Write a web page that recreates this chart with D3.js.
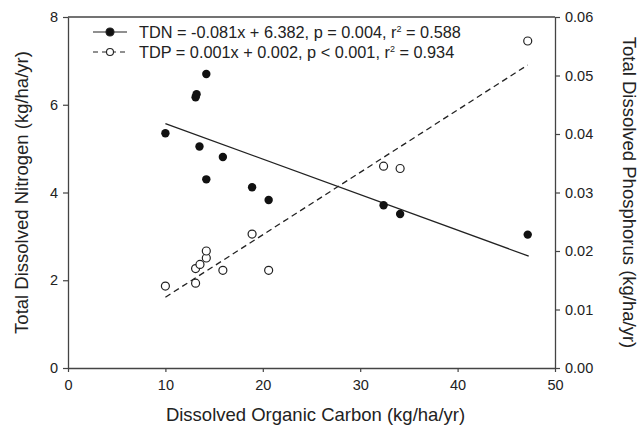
<!DOCTYPE html>
<html>
<head>
<meta charset="utf-8">
<script src="https://cdn.jsdelivr.net/npm/d3@7"></script>
<style>
  body { margin: 0; background: #fff; }
  text { font-family: "Liberation Sans", Arial, sans-serif; fill: #222; }
</style>
</head>
<body>
<div id="chart"></div>
<script>
// dissolved organic carbon (x) for each site
const docTdn = [14.2, 13.1, 13.2, 10.0, 13.5, 15.9, 14.2, 18.9, 20.6, 32.4, 34.1, 47.2]
const tdn    = [6.70, 6.17, 6.24, 5.35, 5.05, 4.81, 4.30, 4.12, 3.83, 3.71, 3.51, 3.04]

const docTdp = [10.0, 13.1, 13.1, 13.55, 14.2, 14.2, 15.9, 18.9, 20.6, 32.4, 34.1, 47.2]
const tdp    = [0.0140, 0.0145, 0.0170, 0.0177, 0.0188, 0.0200, 0.0167, 0.0229, 0.0167, 0.0345, 0.0341, 0.0559]

// fitted line end points as drawn
const tdnFitX = [10, 47.3]
const tdnFitY = [5.57, 2.55]
const tdpFitX = [10, 47.2]
const tdpFitY = [0.0121, 0.0518]

const xTicks = [0, 10, 20, 30, 40, 50]
const leftTicks = [0, 2, 4, 6, 8]
const rightTicks = [0, 0.01, 0.02, 0.03, 0.04, 0.05, 0.06]

const legendLabels = [
  "TDN = -0.081x + 6.382, p = 0.004, r",
  "TDP = 0.001x + 0.002, p < 0.001, r"
]
const legendR2 = ["= 0.588", "= 0.934"]

const width = 640, height = 427
const margin = {left: 68, right: 85, top: 17, bottom: 59}
const w = width - margin.left - margin.right
const h = height - margin.top - margin.bottom
const ink = "#222"

const svg = d3.select("#chart").append("svg")
  .attr("width", width).attr("height", height)

const g = svg.append("g").attr("transform", `translate(${margin.left},${margin.top})`)

const x = d3.scaleLinear().domain([0, 50]).range([0, w])
const yL = d3.scaleLinear().domain([0, 8]).range([h, 0])
const yR = d3.scaleLinear().domain([0, 0.06]).range([h, 0])

// frame top line
g.append("line").attr("x1", 0).attr("x2", w).attr("y1", 0).attr("y2", 0)
  .attr("stroke", "#444").attr("stroke-width", 1.3)

const styleAxis = sel => {
  sel.select(".domain").attr("stroke", "#444").attr("stroke-width", 1.3)
  sel.selectAll(".tick line").attr("stroke", "#444").attr("stroke-width", 1.2)
  sel.selectAll(".tick text").style("font-size", "14.5px").attr("fill", ink)
}

g.append("g").attr("transform", `translate(0,${h})`)
  .call(d3.axisBottom(x).tickValues(xTicks).tickSize(4).tickPadding(8).tickSizeOuter(0))
  .call(styleAxis)

g.append("g")
  .call(d3.axisLeft(yL).tickValues(leftTicks).tickSize(5).tickPadding(5).tickSizeOuter(0))
  .call(styleAxis)

g.append("g").attr("transform", `translate(${w},0)`)
  .call(d3.axisRight(yR).tickValues(rightTicks).tickFormat(d3.format(".2f")).tickSize(5).tickPadding(5).tickSizeOuter(0))
  .call(styleAxis)

// regression lines
g.append("line")
  .attr("x1", x(tdnFitX[0])).attr("y1", yL(tdnFitY[0]))
  .attr("x2", x(tdnFitX[1])).attr("y2", yL(tdnFitY[1]))
  .attr("stroke", ink).attr("stroke-width", 1.3)

g.append("line")
  .attr("x1", x(tdpFitX[0])).attr("y1", yR(tdpFitY[0]))
  .attr("x2", x(tdpFitX[1])).attr("y2", yR(tdpFitY[1]))
  .attr("stroke", ink).attr("stroke-width", 1.3).attr("stroke-dasharray", "6,4")

// points
g.selectAll("circle.tdp")
  .data(docTdp.map((d, i) => [d, tdp[i]]))
  .enter().append("circle").attr("class", "tdp")
  .attr("cx", d => x(d[0])).attr("cy", d => yR(d[1])).attr("r", 4)
  .attr("fill", "#fff").attr("stroke", ink).attr("stroke-width", 1.2)

g.selectAll("circle.tdn")
  .data(docTdn.map((d, i) => [d, tdn[i]]))
  .enter().append("circle").attr("class", "tdn")
  .attr("cx", d => x(d[0])).attr("cy", d => yL(d[1])).attr("r", 4.2)
  .attr("fill", "#111")

// legend
const lg = g.append("g").attr("transform", "translate(25,15)")
legendLabels.forEach((lab, i) => {
  const row = lg.append("g").attr("transform", `translate(0,${i * 20})`)
  row.append("line").attr("x1", 0).attr("x2", 34).attr("y1", 0).attr("y2", 0)
    .attr("stroke", ink).attr("stroke-width", 1.2)
    .attr("stroke-dasharray", i == 1 ? "5,4" : null)
  row.append("circle").attr("cx", 17).attr("cy", 0).attr("r", i == 0 ? 4 : 3.5)
    .attr("fill", i == 0 ? "#111" : "#fff").attr("stroke", ink).attr("stroke-width", 1.1)
  const t = row.append("text").attr("x", 46).attr("y", 6).style("font-size", "16.3px")
  t.append("tspan").text(lab)
  t.append("tspan").attr("dy", -6).style("font-size", "9px").text("2")
  t.append("tspan").attr("dy", 6).text(" " + legendR2[i])
})

// axis titles
svg.append("text")
  .attr("x", margin.left + w / 2 + 4).attr("y", 421)
  .attr("text-anchor", "middle").style("font-size", "18.5px")
  .text("Dissolved Organic Carbon (kg/ha/yr)")

svg.append("text")
  .attr("transform", `translate(28,${margin.top + h / 2}) rotate(-90)`)
  .attr("text-anchor", "middle").style("font-size", "18.5px")
  .text("Total Dissolved Nitrogen (kg/ha/yr)")

svg.append("text")
  .attr("transform", `translate(623,${margin.top + h / 2}) rotate(90)`)
  .attr("text-anchor", "middle").style("font-size", "18.5px")
  .text("Total Dissolved Phosphorus (kg/ha/yr)")
</script>
</body>
</html>
